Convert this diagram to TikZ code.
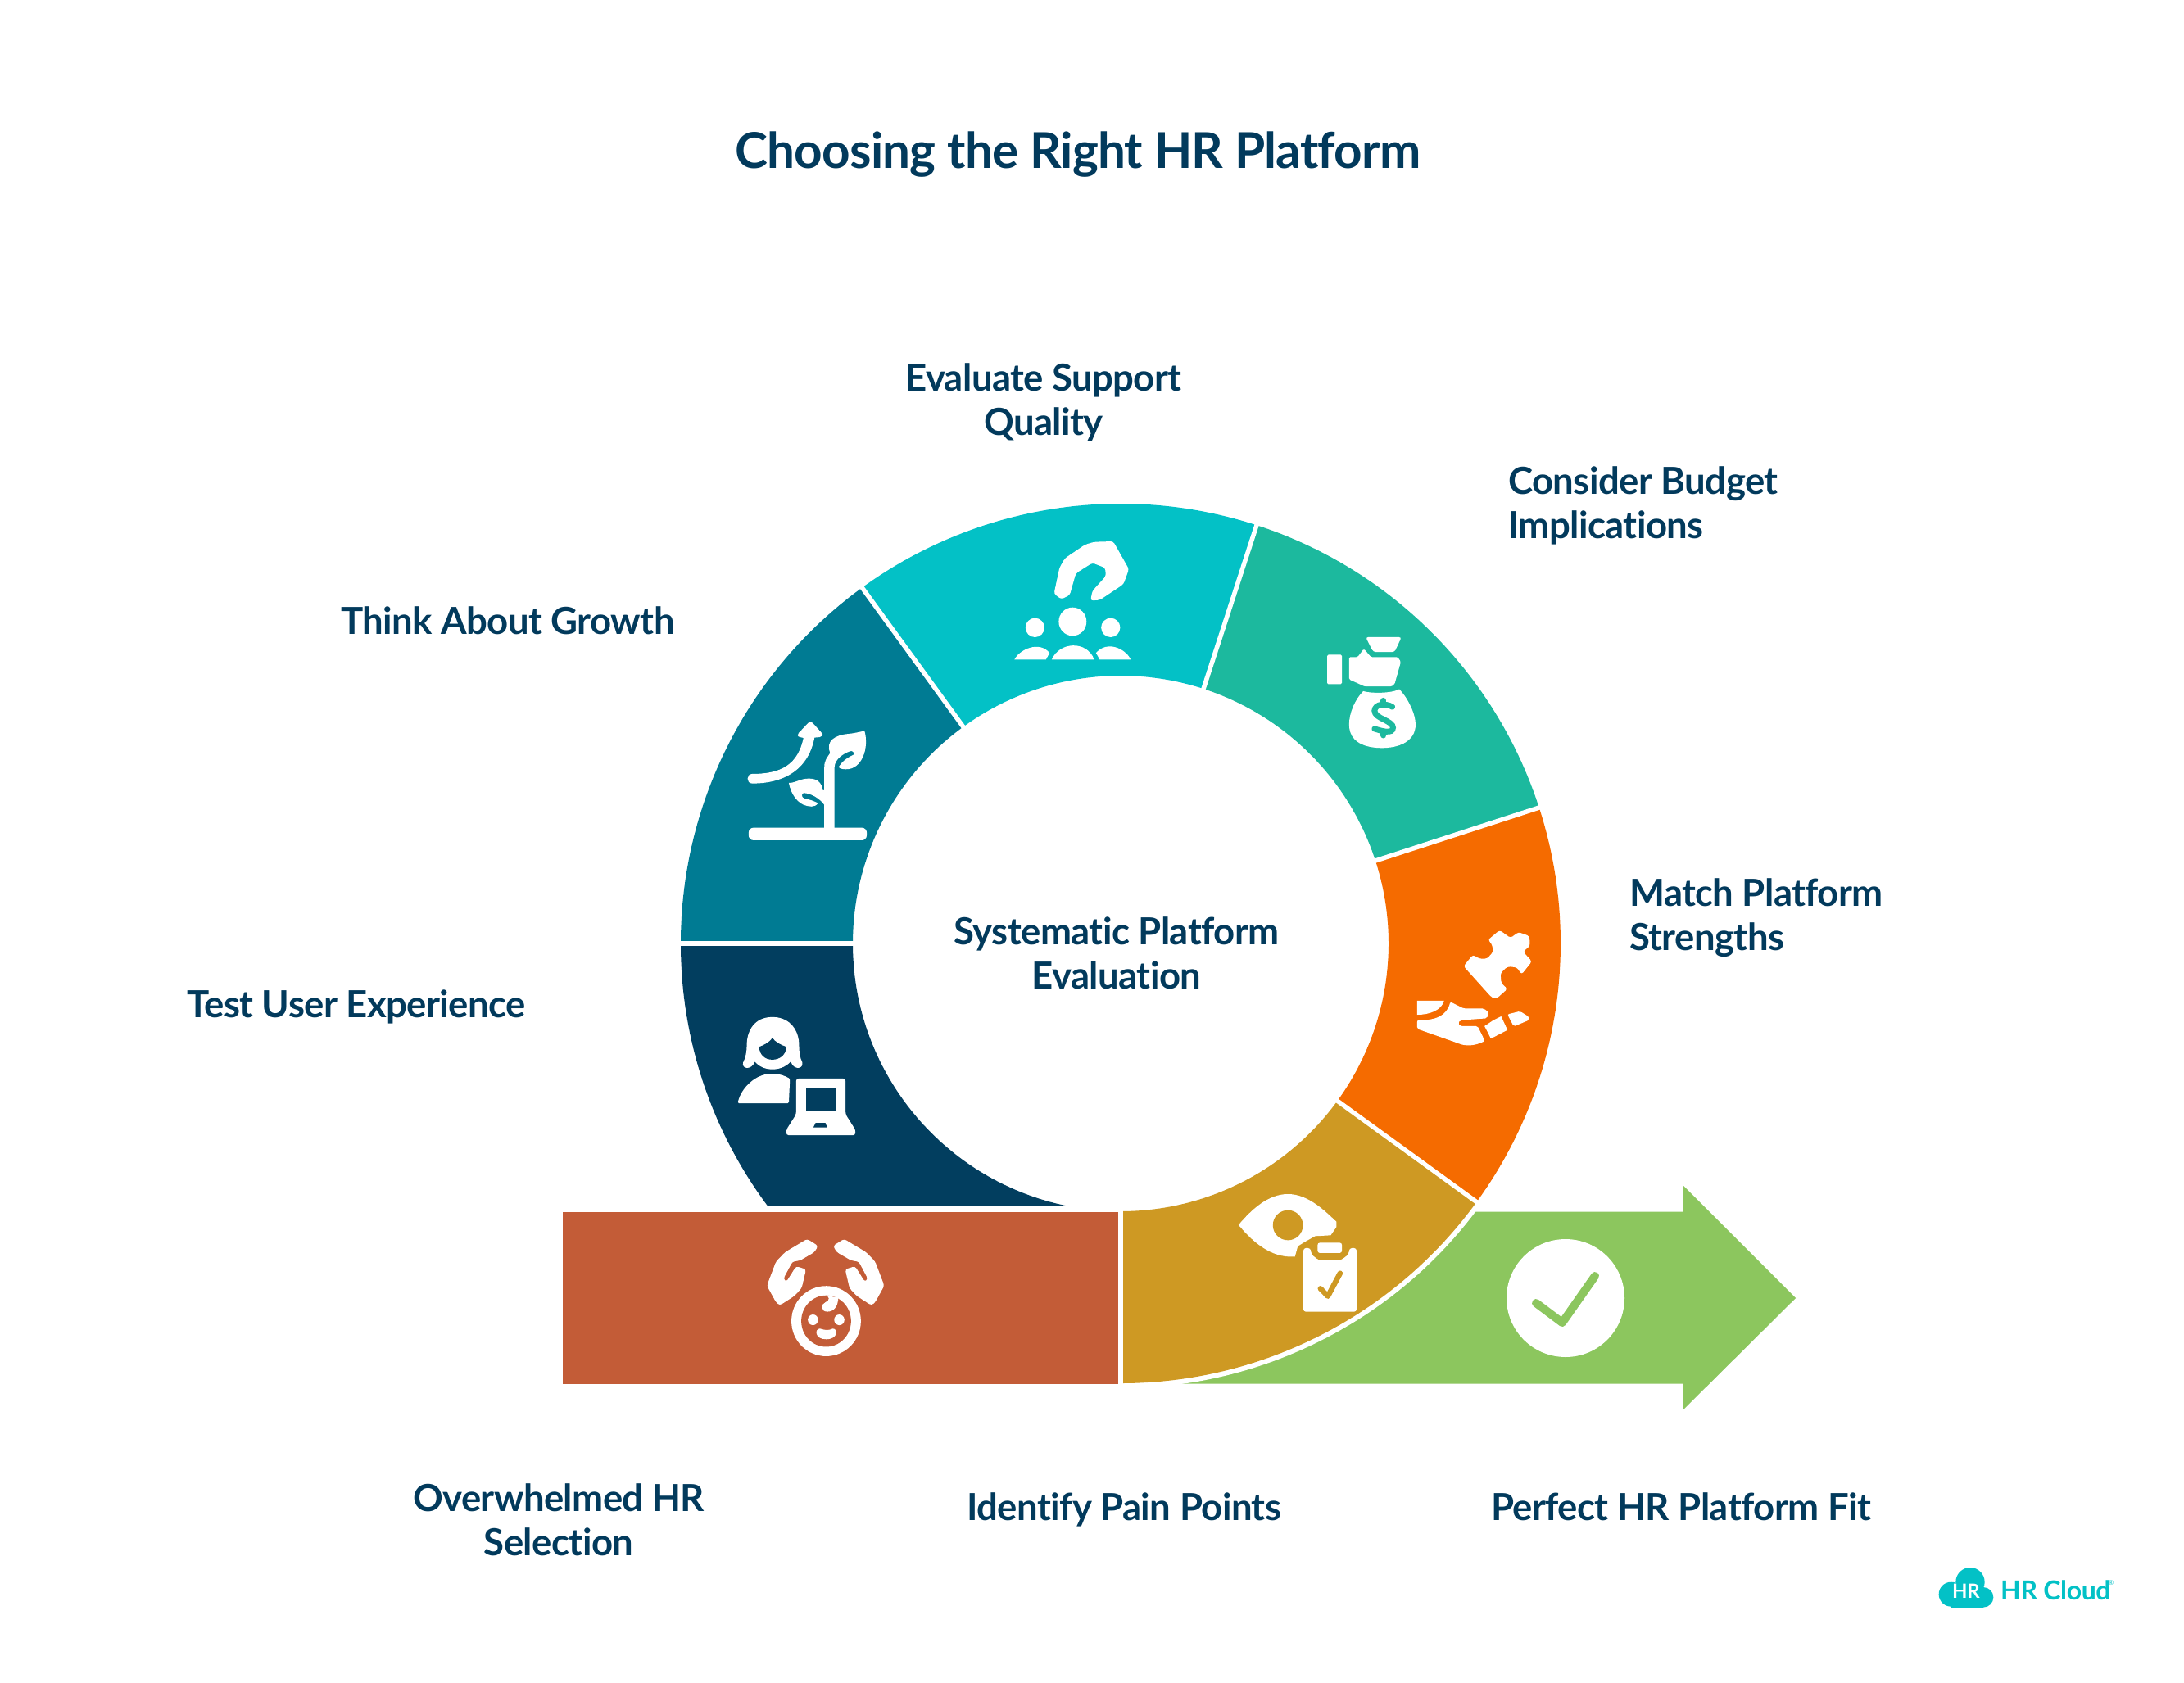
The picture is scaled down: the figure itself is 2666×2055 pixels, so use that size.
\documentclass[tikz,border=0pt]{standalone}
\usepackage{fontspec}
\setmainfont{Lato}[BoldFeatures={LetterSpace=-1.3},Ligatures=NoCommon]
\definecolor{cnavy}{HTML}{023E5F}
\definecolor{ctext}{HTML}{023A5C}
\definecolor{cdeep}{HTML}{007B93}
\definecolor{ccyan}{HTML}{03C1C6}
\definecolor{cgreen}{HTML}{1CB99E}
\definecolor{corange}{HTML}{F56B00}
\definecolor{cgold}{HTML}{CE9923}
\definecolor{crust}{HTML}{C35C37}
\definecolor{clime}{HTML}{8CC65E}
\tikzset{
 lbl/.style={text=ctext,font=\bfseries\fontsize{45.5}{54}\selectfont,inner sep=0pt,align=center},
 lbll/.style={lbl,align=left,anchor=west},
 zoneA/.style={shift={(800,600)},xscale=0.4464,yscale=0.3333},
 zoneB/.style={shift={(1400,600)},xscale=0.3827,yscale=0.4783},
 zoneC/.style={shift={(800,1150)},xscale=0.4464,yscale=0.3827},
 zoneD/.style={shift={(1350,1350)},xscale=0.574,yscale=0.3333},
 ico/.style={fill=white,rounded corners=3pt},
}
\newcommand{\sect}[3]{\fill[#3] (-#1:537) arc[start angle=-#1,end angle=-#2,radius=537] -- (-#2:327) arc[start angle=-#2,end angle=-#1,radius=327] -- cycle;}
\newcommand{\gapline}[1]{\draw[white,line width=5.5pt] (-#1:322) -- (-#1:542);}
\begin{document}
\begin{tikzpicture}[x=1pt,y=-1pt]
\useasboundingbox (0,0) rectangle (2666,2055);
\fill[white] (0,0) rectangle (2666,2055);
% arrow
\fill[clime] (1420,1479.5) -- (2055,1479.5) -- (2055,1448) -- (2192,1585) -- (2055,1721) -- (2055,1689.5) -- (1420,1689.5) -- cycle;
\begin{scope}[shift={(1368,1152)}]
 \fill[white] (36:543) arc[start angle=36,end angle=90,radius=543] -- (0,0) -- cycle;
\end{scope}
% rust bar
\fill[crust] (687,1479.5) rectangle (1365,1689.5);
\begin{scope}[shift={(1368,1152)}]
 \sect{180}{126}{cdeep}
 \sect{126}{72}{ccyan}
 \sect{72}{18}{cgreen}
 \sect{18}{-36}{corange}
 \sect{-36}{-90}{cgold}
 \begin{scope}
  \clip (-600,0) rectangle (600,321);
  \sect{180}{270}{cnavy}
 \end{scope}
 \gapline{180}\gapline{126}\gapline{72}\gapline{18}\gapline{-36}
\end{scope}
\fill[white] (1365,1470) rectangle (1371,1700);
\fill[white] (680,1473) rectangle (1371,1479.5);
% growth
\begin{scope}[zoneA]
 \fill[white,rounded corners=6pt] (255,1232) rectangle (578,1278);
 \fill[white] (462,1240) -- (462,1010) .. controls (462,985) and (470,975) .. (478,958) .. controls (465,915) and (490,892) .. (530,888) .. controls (545,886) and (560,880) .. (572,878) .. controls (585,940) and (565,1020) .. (520,1018) .. controls (510,1018) and (500,1014) .. (502,1008) .. controls (510,990) and (525,975) .. (542,965) .. controls (545,958) and (540,948) .. (532,952) .. controls (510,962) and (490,985) .. (490,1010) -- (490,1240) -- cycle;
 \fill[white] (365,1068) .. controls (385,1068) and (395,1052) .. (420,1052) .. controls (445,1052) and (455,1070) .. (458,1095) -- (463,1095) -- (463,1150) .. controls (450,1125) and (425,1105) .. (405,1105) .. controls (398,1110) and (400,1122) .. (408,1125) .. controls (420,1128) and (435,1135) .. (445,1142) .. controls (435,1160) and (420,1155) .. (405,1148) .. controls (385,1135) and (370,1105) .. (365,1068) -- cycle;
 \fill[white] (265,1035) .. controls (345,1035) and (390,1000) .. (405,903) -- (395,900) .. controls (388,898) and (388,890) .. (392,885) -- (418,848) .. controls (422,843) and (426,843) .. (430,848) -- (455,885) .. controls (460,892) and (456,898) .. (450,900) -- (435,902) .. controls (420,1010) and (360,1070) .. (265,1070) .. controls (248,1070) and (248,1035) .. (265,1035) -- cycle;
\end{scope}
% support
\begin{scope}[zoneA]
 \fill[ico] (1090,375) -- (1105,280) -- (1120,245) -- (1175,195) -- (1200,185) -- (1252,183) -- (1295,285) -- (1280,340) -- (1215,398) -- (1190,400) -- (1195,365) -- (1232,310) -- (1230,280) -- (1195,262) -- (1150,300) -- (1133,380) -- (1110,395) -- cycle;
 \fill[white] (1038,499) circle[x radius=26,y radius=35];
 \fill[white] (1141,477) circle[x radius=38,y radius=52];
 \fill[white] (1245,499) circle[x radius=26,y radius=35];
 \fill[white] (982,616) .. controls (995,580) and (1050,545) .. (1078,592) -- (1068,616) -- cycle;
 \fill[white] (1084,616) .. controls (1105,550) and (1180,545) .. (1200,616) -- cycle;
 \fill[white] (1205,592) .. controls (1235,545) and (1285,575) .. (1300,616) -- (1215,616) -- cycle;
\end{scope}
% budget
\begin{scope}[zoneB]
 \fill[ico] (698,372) -- (812,372) -- (790,410) -- (722,410) -- cycle;
 \fill[fill=white,rounded corners=1.5pt] (575,417) rectangle (622,492);
 \fill[fill=white,rounded corners=1.5pt] (645,423) -- (672,423) -- (692,402) -- (715,423) -- (800,423) -- (810,435) -- (790,492) -- (780,498) -- (695,498) -- (645,480) -- cycle;
 \fill[white] (690,510) .. controls (715,516) and (780,516) .. (805,505) .. controls (835,530) and (857,570) .. (857,595) .. controls (857,640) and (800,655) .. (750,655) .. controls (695,655) and (645,640) .. (645,595) .. controls (645,565) and (665,530) .. (690,510) -- cycle;
 \draw[cgreen,line width=7pt,line cap=round] (783,550) .. controls (760,540) and (728,542) .. (726,560) .. controls (726,580) and (785,585) .. (785,603) .. controls (785,620) and (750,612) .. (726,606);
 \draw[cgreen,line width=7pt,line cap=round] (755,534) -- (755,545) (755,612) -- (755,623);
\end{scope}
% match
\begin{scope}[zoneB]
 \fill[ico] (1010,1212) -- (1040,1183) -- (1060,1193) -- (1085,1193) -- (1105,1175) -- (1100,1155) -- (1088,1145) -- (1125,1120) -- (1160,1140) -- (1185,1125) -- (1220,1135) -- (1222,1160) -- (1200,1175) -- (1228,1200) -- (1195,1233) -- (1180,1215) -- (1150,1213) -- (1128,1230) -- (1130,1255) -- (1150,1270) -- (1115,1295) -- (1100,1292) -- cycle;
 \fill[white] (862,1300) -- (948,1300) .. controls (940,1325) and (900,1336) .. (862,1336) -- cycle;
 \fill[fill=white,rounded corners=2pt] (862,1350) .. controls (920,1350) and (955,1340) .. (968,1303) -- (1010,1320) -- (1075,1320) -- (1090,1330) -- (1085,1345) -- (1000,1350) -- (992,1357) -- (1000,1365) -- (1055,1365) -- (1078,1403) .. controls (1050,1414) and (1020,1418) .. (990,1408) -- (862,1372) -- cycle;
 \fill[white] (1077,1365) -- (1105,1350) -- (1130,1340) -- (1150,1375) -- (1097,1397) -- cycle;
 \fill[fill=white,rounded corners=2pt] (1150,1335) -- (1190,1327) -- (1220,1342) -- (1218,1350) -- (1170,1366) -- cycle;
\end{scope}
% user
\begin{scope}[zoneC]
 \fill[white] (320,240) .. controls (370,240) and (393,285) .. (393,330) .. controls (393,350) and (395,370) .. (402,385) .. controls (405,405) and (380,412) .. (370,382) .. controls (345,415) and (295,415) .. (272,382) .. controls (262,412) and (235,405) .. (240,385) .. controls (247,370) and (250,350) .. (250,330) .. controls (250,285) and (270,240) .. (320,240) -- cycle;
 \fill[cnavy] (320,307) .. controls (328,320) and (345,330) .. (358,335) .. controls (358,360) and (340,376) .. (320,376) .. controls (300,376) and (284,360) .. (284,335) .. controls (297,330) and (312,320) .. (320,307) -- cycle;
 \fill[white,rounded corners=1.5pt] (225,515) .. controls (235,465) and (275,421) .. (320,421) .. controls (340,421) and (355,428) .. (368,437) -- (365,515) -- cycle;
 \fill[ico] (385,436) -- (520,436) -- (520,550) -- (547,600) -- (547,617) -- (358,617) -- (358,600) -- (385,550) -- cycle;
 \fill[cnavy] (412,468) rectangle (493,537);
 \fill[cnavy] (438,578) -- (465,578) -- (470,592) -- (432,592) -- cycle;
\end{scope}
% baby
\begin{scope}[zoneC]
 \fill[ico] (305,1097) -- (330,1020) -- (355,990) -- (415,948) -- (445,970) -- (435,990) -- (395,1017) -- (375,1020) -- (350,1075) -- (358,1085) -- (385,1035) -- (412,1045) -- (400,1105) -- (380,1130) -- (340,1160) -- (330,1150) -- cycle;
 \fill[ico] (626,1097) -- (601,1020) -- (576,990) -- (516,948) -- (486,970) -- (496,990) -- (536,1017) -- (556,1020) -- (581,1075) -- (573,1085) -- (546,1035) -- (519,1045) -- (531,1105) -- (551,1130) -- (591,1160) -- (601,1150) -- cycle;
 \fill[white] (467,1210) circle[x radius=95,y radius=112];
 \fill[crust] (467,1210) circle[x radius=68,y radius=82];
 \fill[white] (462,1128) .. controls (478,1128) and (478,1145) .. (465,1150) .. controls (452,1155) and (452,1180) .. (470,1180) .. controls (490,1180) and (500,1160) .. (500,1135) -- cycle;
 \fill[white] (431,1206) circle[x radius=14,y radius=17];
 \fill[white] (503,1206) circle[x radius=14,y radius=17];
 \fill[white] (450,1234) .. controls (465,1240) and (475,1240) .. (485,1234) .. controls (500,1234) and (500,1268) .. (467,1268) .. controls (435,1268) and (435,1234) .. (450,1234) -- cycle;
\end{scope}
% eye and clipboard
\begin{scope}[zoneD]
 \fill[white] (282,437) .. controls (310,380) and (345,324) .. (387,324) .. controls (430,324) and (465,385) .. (490,425) -- (490,445) -- (478,475) -- (445,478) -- (425,497) -- (408,515) -- (402,553) .. controls (350,560) and (310,495) .. (282,437) -- cycle;
 \fill[cgold] (387,438) circle[x radius=32,y radius=55];
 \fill[ico] (420,522) -- (435,522) -- (437,545) -- (452,566) -- (500,566) -- (516,545) -- (518,522) -- (533,522) -- (533,755) -- (420,755) -- cycle;
 \fill[ico] (450,502) rectangle (502,540);
 \draw[cgold,line width=6.5pt,line cap=round,line join=round] (456,670) -- (472,698) -- (498,614);
\end{scope}
% check
\fill[white] (1911,1585) circle[radius=72];
\draw[clime,line width=10pt,line cap=round,line join=round] (1875,1591) -- (1907,1615) -- (1947,1558);
% texts
\node[lbl,font=\bfseries\fontsize{60.2}{66}\selectfont] (title) at (1316,189) {Choosing the Right HR Platform};
\node[lbl] (eval) at (1274,491) {Evaluate Support\\Quality};
\node[lbll] (budget) at (1841,617) {Consider Budget\\Implications};
\node[lbll] (match) at (1989,1121) {Match Platform\\Strengths};
\node[lbl] (growth) at (620,758) {Think About Growth};
\node[lbl] (test) at (435,1229) {Test User Experience};
\node[lbl] (center) at (1363,1164) {Systematic Platform\\Evaluation};
\node[lbl] (over) at (682,1856) {Overwhelmed HR\\Selection};
\node[lbl] (pain) at (1372,1843) {Identify Pain Points};
\node[lbl] (fit) at (2052,1839.5) {Perfect HR Platform Fit};
% logo
\begin{scope}[shift={(2340,1890)},scale=0.3333]
 \fill[ccyan] (125,170) circle[radius=45];
 \fill[ccyan] (195,125) circle[radius=53];
 \fill[ccyan] (243,181) circle[radius=37];
 \fill[ccyan] (125,160) rectangle (243,218);
\end{scope}
\node[text=white,font=\bfseries\fontsize{24}{24}\selectfont,inner sep=0pt] (logohr) at (2400,1943) {HR};
\node[text=ccyan,font=\bfseries\fontsize{32}{32}\selectfont,inner sep=0pt,anchor=west] (logoname) at (2442,1942) {HR Cloud};
\node[text=ccyan,font=\fontsize{8}{8}\selectfont,inner sep=0pt] (logoreg) at (2577,1933) {®};
\end{tikzpicture}
\end{document}
